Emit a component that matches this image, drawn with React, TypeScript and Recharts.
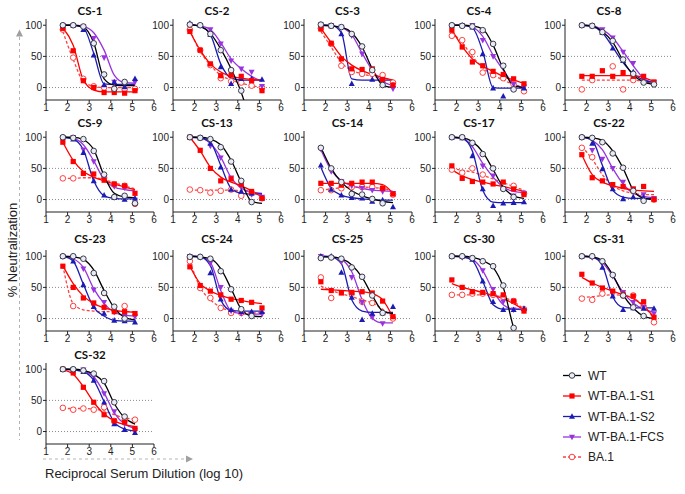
import React from 'react';
import { ComposedChart, Line, XAxis, YAxis, ReferenceLine } from 'recharts';

// log10 reciprocal serum dilution (3-fold series)
const dilutionX = [1.78, 2.26, 2.73, 3.21, 3.69, 4.16, 4.64, 5.12];

const panelNames = ['CS-1', 'CS-2', 'CS-3', 'CS-4', 'CS-8', 'CS-9', 'CS-13', 'CS-14', 'CS-17', 'CS-22', 'CS-23', 'CS-24', 'CS-25', 'CS-30', 'CS-31', 'CS-32'];
const xTicks = [1, 2, 3, 4, 5, 6];
const yTicks = [0, 50, 100];
const legendLabels = ['WT', 'WT-BA.1-S1', 'WT-BA.1-S2', 'WT-BA.1-FCS', 'BA.1'];

// measured points (% neutralization), one row per panel
const wtPoints = [
  [100, 100, 98, 71, 21, -2, 9, null],
  [101, 100, 86, 60, 28, -5, null, null],
  [101, 99, 97, 86, 66, 28, 4, null],
  [100, 99, 98, 92, 70, 35, -3, null],
  [100, 99, 89, 75, 45, 22, 8, 5],
  [100, 99, 97, 78, 40, 4, 6, -6],
  [100, 99, 97, 84, 61, 30, -4, null],
  [83, 50, 28, 9, 8, 1, -6, null],
  [100, 100, 91, 73, 50, 17, 4, null],
  [100, 99, 92, 74, 51, 14, -2, null],
  [100, 100, 96, 73, 41, 19, 0, null],
  [99, 99, 96, 76, 47, 15, 4, null],
  [97, 98, 96, 82, 67, 37, 9, null],
  [100, 100, 97, 92, 84, 53, -15, null],
  [100, 100, 92, 70, 37, 18, 4, null],
  [100, 100, 98, 93, 81, 47, 24, null],
];
const s1Points = [
  [95, 59, 11, 0, -8, -8, -9, -5],
  [90, 60, 38, 19, 20, 18, 11, -5],
  [94, 71, 46, 30, 29, 30, 13, 4],
  [92, 65, 41, 35, 26, 21, 14, 6],
  [18, 18, 27, 18, 24, 18, 18, 9],
  [92, 61, 42, 41, 31, 25, 22, 10],
  [100, 79, 50, 30, 33, 24, 13, 2],
  [26, 26, 23, 26, 28, 28, 18, 9],
  [54, 34, 29, 28, 25, 28, 17, 8],
  [72, 35, 30, 24, 21, 17, 21, 0],
  [84, 50, 33, 25, 18, 11, 11, 8],
  [83, 53, 44, 38, 31, 29, 26, 17],
  [59, 45, 41, 42, 43, 41, 28, 3],
  [62, 50, 43, 42, 40, 38, 28, 12],
  [71, 57, 49, 44, 39, 36, 27, 2],
  [100, 94, 71, 47, 27, 17, 15, 5],
];
const s2Points = [
  [100, 100, 93, 52, 4, 9, 1, 14],
  [103, 100, 85, 33, 6, 14, 14, 13],
  [101, 99, 86, 6, null, 13, 12, 4],
  [100, 100, 97, 54, -1, -14, -1, -1],
  [100, 99, 88, 63, 43, 25, 11, 6],
  [100, 97, 75, 30, 7, 3, 0, 2],
  [100, 99, 90, 52, 16, 13, 10, 2],
  [55, 16, 7, 3, 2, -3, -1, -12],
  [100, 99, 70, 17, -10, -6, -5, -4],
  [100, 90, 49, 17, 1, 4, 3, null],
  [100, 92, 54, 19, 8, -3, -4, -6],
  [100, 99, 73, 31, 14, 11, 11, 11],
  [100, 100, 74, 34, -2, 8, 9, 19],
  [100, 100, 95, 60, 27, 14, 14, 16],
  [100, 100, 82, 36, 14, 17, 16, 16],
  [100, 99, 96, 82, 47, 12, 3, -2],
];
const fcsPoints = [
  [100, 100, 98, 79, 48, 9, 6, 9],
  [101, 100, 93, 70, 43, 30, 25, 2],
  [101, 100, 97, 83, 54, 28, 9, -2],
  [100, 100, 100, 76, 50, 35, 5, 1],
  [100, 99, 93, 80, 57, 39, 11, 8],
  [100, 100, 80, 61, 34, 21, 19, -1],
  [100, 99, 86, 67, 35, 20, 8, 4],
  [81, 45, 29, 22, 18, 15, 13, 10],
  [100, 100, 88, 54, 38, 17, 6, 10],
  [100, 79, 65, 50, 28, 17, 8, 2],
  [100, 97, 80, 46, 26, 10, 4, 3],
  [100, 98, 89, 50, 12, 8, 7, 7],
  [100, 98, 91, 66, 26, 2, -8, null],
  [100, 98, 97, 77, 47, 27, 14, 13],
  [100, 98, 90, 68, 42, 26, 18, 8],
  [100, 100, 99, 88, 61, 32, 12, 2],
];
const ba1Points = [
  [93, 48, 14, 2, 0, -2, -3, -2],
  [93, 60, 36, 15, 10, 8, 3, 0],
  [95, 70, 35, 25, 22, 22, 20, 8],
  [83, 76, 57, 24, 20, 15, 5, -6],
  [-3, 12, null, 34, -3, 12, null, null],
  [34, 34, null, null, 35, 24, 22, -7],
  [16, 15, 11, 14, 16, 6, 10, 2],
  [15, 15, 18, 20, 20, 20, 18, 8],
  [48, 43, 50, 40, null, null, 22, 10],
  [83, 68, null, null, null, 13, null, 0],
  [null, 20, null, null, null, null, 20, null],
  [92, 49, 33, 17, 9, 9, null, null],
  [66, 33, null, 40, 27, 25, null, 0],
  [38, 38, 40, 40, 38, 35, 28, 15],
  [32, 30, 40, null, 37, 37, 19, -6],
  [38, 35, 37, 35, 39, 17, 18, 19],
];

// fitted curves read at the same dilutions
const wtCurve = [
  [100, 100, 97, 72, 14, 4, 3, 3],
  [101, 98, 87, 62, 30, -8, -60, -110],
  [100, 99, 97, 88, 65, 30, 4, 0],
  [100, 100, 99, 94, 68, 30, 3, 0],
  [100, 99, 90, 73, 43, 20, 9, 5],
  [100, 100, 96, 80, 38, 10, 4, 3],
  [100, 100, 97, 88, 63, 28, -3, -6],
  [84, 50, 28, 14, 6, 1, -3, -5],
  [100, 99, 93, 76, 48, 20, 6, 2],
  [100, 99, 95, 78, 50, 15, 2, 0],
  [100, 99, 95, 78, 45, 17, 2, -2],
  [100, 99, 96, 80, 48, 15, 4, 3],
  [99, 99, 96, 86, 66, 37, 12, 8],
  [100, 100, 98, 93, 82, 50, -15, -60],
  [100, 99, 93, 70, 38, 17, 4, 0],
  [100, 100, 98, 92, 78, 45, 22, 12],
];
const s1Curve = [
  [96, 68, 12, -4, -7, -7, -7, -7],
  [90, 60, 38, 25, 18, 15, 13, 12],
  [95, 72, 50, 36, 27, 21, 16, 12],
  [93, 66, 46, 34, 26, 18, 12, 7],
  [19, 19, 19, 19, 19, 19, 16, 10],
  [92, 63, 45, 36, 30, 25, 20, 16],
  [100, 78, 52, 36, 28, 22, 14, 4],
  [26, 26, 26, 26, 26, 26, 24, 10],
  [48, 38, 32, 28, 24, 21, 17, 13],
  [72, 40, 28, 22, 18, 15, 14, 13],
  [85, 56, 36, 24, 17, 13, 11, 10],
  [84, 56, 44, 37, 32, 29, 26, 24],
  [47, 46, 45, 44, 43, 40, 30, 2],
  [56, 50, 46, 42, 37, 32, 24, 14],
  [66, 57, 50, 44, 38, 32, 20, 2],
  [99, 92, 72, 47, 28, 17, 11, 8],
];
const s2Curve = [
  [100, 100, 96, 55, 6, 5, 5, 5],
  [101, 98, 85, 38, 15, 12, 12, 12],
  [100, 100, 88, 14, 12, 12, 12, 12],
  [100, 100, 96, 58, 0, -1, -1, -1],
  [100, 98, 88, 65, 40, 22, 12, 8],
  [100, 97, 80, 30, 6, 2, 1, 1],
  [100, 99, 92, 55, 18, 10, 9, 9],
  [52, 18, 7, 3, 1, 0, -1, -1],
  [100, 98, 78, 15, -4, -5, -5, -5],
  [100, 95, 55, 15, 4, 2, 2, 2],
  [100, 92, 55, 18, 4, -3, -4, -4],
  [100, 99, 85, 30, 13, 12, 12, 12],
  [100, 99, 88, 30, 12, 10, 10, 10],
  [100, 99, 93, 60, 22, 15, 15, 15],
  [100, 99, 85, 35, 18, 17, 17, 17],
  [100, 99, 96, 82, 48, 15, 4, 1],
];
const fcsCurve = [
  [100, 100, 98, 88, 60, 20, 8, 7],
  [101, 99, 93, 72, 46, 30, 18, 10],
  [100, 99, 96, 85, 55, 28, 10, 3],
  [100, 100, 97, 82, 52, 28, 6, 0],
  [100, 99, 93, 80, 58, 35, 15, 8],
  [100, 98, 88, 62, 32, 20, 16, 14],
  [100, 99, 90, 68, 35, 18, 12, 10],
  [80, 47, 30, 22, 18, 15, 14, 13],
  [100, 98, 85, 58, 36, 20, 13, 11],
  [100, 95, 80, 50, 25, 10, 5, 3],
  [100, 96, 82, 48, 24, 10, 5, 4],
  [100, 99, 90, 45, 12, 8, 7, 7],
  [100, 99, 95, 75, 30, 0, -7, -7],
  [100, 99, 95, 77, 45, 22, 15, 14],
  [100, 98, 90, 68, 42, 25, 15, 10],
  [100, 99, 97, 88, 62, 30, 12, 5],
];
const ba1Curve = [
  [90, 45, 10, 2, 0, 0, 0, 0],
  [92, 58, 36, 20, 12, 7, 3, 0],
  [90, 65, 40, 28, 22, 18, 15, 12],
  [88, 72, 50, 32, 20, 12, 5, 0],
  [12, 12, 12, 12, 12, 12, 10, 7],
  [34, 34, 35, 35, 32, 27, 22, 17],
  [15, 15, 15, 15, 15, 14, 12, 8],
  [15, 17, 19, 20, 20, 19, 18, 12],
  [50, 47, 44, 39, 33, 27, 21, 15],
  [85, 65, 40, 22, 14, 10, 8, 8],
  [85, 24, 14, 12, 11, 11, 11, 11],
  [92, 50, 30, 18, 12, 10, 9, 9],
  [52, 45, 40, 35, 30, 25, 15, 2],
  [38, 38, 38, 38, 37, 34, 27, 15],
  [34, 35, 37, 38, 37, 33, 20, 0],
  [37, 37, 37, 36, 33, 27, 22, 20],
];

const pointSets = [wtPoints, s1Points, s2Points, fcsPoints, ba1Points];
const curveSets = [wtCurve, s1Curve, s2Curve, fcsCurve, ba1Curve];

// styling
const STYLES = [
  { color: '#000000', mark: '#3a3a48', shape: 'circle', dash: undefined },
  { color: '#ff0000', mark: '#ff0000', shape: 'square', dash: undefined },
  { color: '#1c1cb4', mark: '#1c1cb4', shape: 'up', dash: undefined },
  { color: '#9933dd', mark: '#9933dd', shape: 'down', dash: undefined },
  { color: '#ff4040', mark: '#ff4040', shape: 'ocircle', dash: '3 2' },
];
const DRAW_ORDER = [4, 3, 2, 1, 0];
const COL_AXIS = [46, 173, 303.5, 435, 565];
const ROW_TOP = [19, 131, 250, 363];
const TITLE_Y = [11, 123, 239, 355];
const PLOT_W = 108;
const PLOT_H = 81;
const Y_AXIS_W = 30;
const FONT = "'Liberation Sans', Arial, sans-serif";

function Marker({ shape, color, cx, cy }: any) {
  if (shape === 'circle') return <circle cx={cx} cy={cy} r={2.8} fill="#e9ecf4" stroke={color} strokeWidth={1} />;
  if (shape === 'ocircle') return <circle cx={cx} cy={cy} r={2.8} fill="#ffffff" stroke={color} strokeWidth={1} />;
  if (shape === 'square') return <rect x={cx - 2.6} y={cy - 2.6} width={5.2} height={5.2} fill={color} />;
  if (shape === 'up') return <path d={`M${cx},${cy - 3.3} L${cx + 3},${cy + 2.3} L${cx - 3},${cy + 2.3} Z`} fill={color} />;
  return <path d={`M${cx},${cy + 3.3} L${cx + 3},${cy - 2.3} L${cx - 3},${cy - 2.3} Z`} fill={color} />;
}

function makeDot(si: number) {
  return (props: any) => {
    const { cx, cy, value, index } = props;
    const k = `d${si}-${index}`;
    if (value == null || cx == null || cy == null || isNaN(cx) || isNaN(cy)) return <g key={k} />;
    return (
      <g key={k}>
        <Marker shape={STYLES[si].shape} color={STYLES[si].mark} cx={cx} cy={cy} />
      </g>
    );
  };
}

function Panel({ idx }: { idx: number }) {
  const col = idx % 5;
  const row = Math.floor(idx / 5);
  const data = dilutionX.map((x, j) => {
    const o: any = { x };
    for (let s = 0; s < 5; s++) {
      o['p' + s] = pointSets[s][idx][j];
      o['c' + s] = curveSets[s][idx][j];
    }
    return o;
  });
  const left = COL_AXIS[col] - Y_AXIS_W;
  const top = ROW_TOP[row] - 2;
  const tick = { fontSize: 10, fill: '#222', fontFamily: FONT };
  return (
    <>
      <div
        style={{
          position: 'absolute',
          left: COL_AXIS[col] + 44 - 40,
          top: TITLE_Y[row] - 8,
          width: 80,
          textAlign: 'center',
          fontFamily: 'Lato, sans-serif',
          fontWeight: 700,
          fontSize: 11.5,
          lineHeight: '16px',
          color: '#111',
        }}
      >
        {panelNames[idx]}
      </div>
      <div style={{ position: 'absolute', left, top }}>
        <ComposedChart
          width={Y_AXIS_W + PLOT_W + 6}
          height={2 + PLOT_H + 20}
          data={data}
          margin={{ top: 2, right: 6, bottom: 0, left: 0 }}
        >
          <XAxis
            type="number"
            dataKey="x"
            domain={[1, 6]}
            ticks={xTicks}
            interval={0}
            allowDataOverflow
            height={20}
            tickSize={3}
            tickMargin={1}
            tick={tick}
            stroke="#222"
          />
          <YAxis
            type="number"
            domain={[-20, 110]}
            ticks={yTicks}
            interval={0}
            allowDataOverflow
            width={Y_AXIS_W}
            tickSize={3}
            tickMargin={1}
            tick={tick}
            stroke="#222"
          />
          <ReferenceLine y={50} stroke="#8a8a8a" strokeDasharray="1 2" />
          <ReferenceLine y={0} stroke="#8a8a8a" strokeDasharray="1 2" />
          {DRAW_ORDER.map((s) => (
            <Line
              key={'c' + s}
              type="monotone"
              dataKey={'c' + s}
              stroke={STYLES[s].color}
              strokeWidth={1.3}
              strokeDasharray={STYLES[s].dash}
              dot={false}
              activeDot={false}
              connectNulls
              isAnimationActive={false}
            />
          ))}
          {DRAW_ORDER.map((s) => (
            <Line
              key={'p' + s}
              dataKey={'p' + s}
              stroke="none"
              strokeWidth={0}
              dot={makeDot(s)}
              activeDot={false}
              isAnimationActive={false}
            />
          ))}
        </ComposedChart>
      </div>
    </>
  );
}

function Decorations() {
  const legendY = [375.5, 396, 416.5, 437, 457];
  return (
    <svg width={685} height={494} style={{ position: 'absolute', left: 0, top: 0, pointerEvents: 'none' }}>
      {/* vertical arrow */}
      <line x1={19.5} y1={37} x2={19.5} y2={440} stroke="#b4b4b4" strokeWidth={1} strokeDasharray="3 3" />
      <path d="M19.5,29.5 L23,36.5 L16,36.5 Z" fill="#a0a0a0" />
      {/* horizontal arrow */}
      <line x1={43} y1={459} x2={185} y2={459} stroke="#b4b4b4" strokeWidth={1} strokeDasharray="3 3" />
      <path d="M193,459 L186,455.5 L186,462.5 Z" fill="#a0a0a0" />
      <text x={12} y={250} transform="rotate(-90 12 250)" textAnchor="middle" dominantBaseline="central" fontSize={13} fill="#222" fontFamily={FONT}>
        % Neutralization
      </text>
      <text x={45} y={478} fontSize={13} fill="#222" fontFamily={FONT}>
        Reciprocal Serum Dilution (log 10)
      </text>
      {legendLabels.map((lab, i) => (
        <g key={lab}>
          <line x1={563} y1={legendY[i]} x2={581} y2={legendY[i]} stroke={STYLES[i].color} strokeWidth={1.3} strokeDasharray={STYLES[i].dash} />
          <Marker shape={STYLES[i].shape} color={STYLES[i].mark} cx={572} cy={legendY[i]} />
          <text x={588} y={legendY[i]} dominantBaseline="central" fontSize={12} fill="#222" fontFamily={FONT}>
            {lab}
          </text>
        </g>
      ))}
    </svg>
  );
}

export default function App() {
  return (
    <div style={{ position: 'absolute', left: 0, top: 0, width: 685, height: 494, background: '#fff', fontFamily: FONT, overflow: 'hidden' }}>
      {panelNames.map((_, i) => (
        <Panel key={i} idx={i} />
      ))}
      <Decorations />
    </div>
  );
}
